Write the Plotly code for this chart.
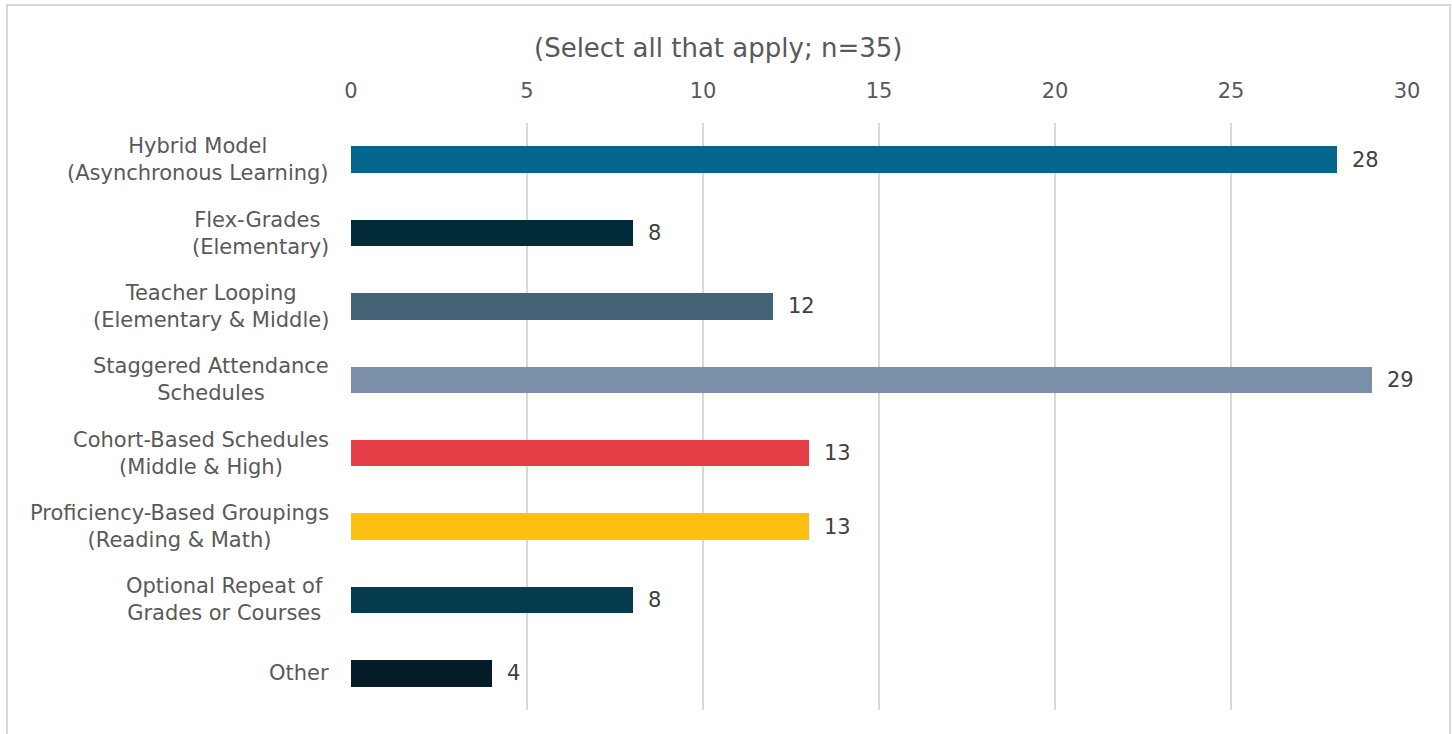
import plotly.graph_objects as go

categories = [
    "Hybrid Model<br>(Asynchronous Learning)",
    "Flex-Grades <br>(Elementary)",
    "Teacher Looping<br>(Elementary & Middle)",
    "Staggered Attendance<br>Schedules",
    "Cohort-Based Schedules<br>(Middle & High)",
    "Proficiency-Based Groupings<br>(Reading & Math)",
    "Optional Repeat of <br>Grades or Courses ",
    "Other",
]
values = [28, 8, 12, 29, 13, 13, 8, 4]
colors = ["#05668D", "#022B3A", "#436275", "#7A8FA9", "#E63E47", "#FDC010", "#053B4F", "#041B28"]
x_ticks = [0, 5, 10, 15, 20, 25, 30]
title_text = "(Select all that apply; n=35)"

FONT = "DejaVu Sans, sans-serif"
W, H = 1452, 734
ml, mr, mt, mb = 351, 45, 123, 24
pw, ph = W - ml - mr, H - mt - mb

ids = list(range(len(categories)))

fig = go.Figure(go.Bar(
    x=values, y=ids, orientation="h",
    marker=dict(color=colors, line=dict(width=0)),
    width=0.36,
    hoverinfo="x+y",
))

annotations = []
for i, c in zip(ids, categories):
    annotations.append(dict(
        x=0, y=i, xref="x", yref="y", text=c, showarrow=False,
        xanchor="right", yanchor="middle", align="center", xshift=-20,
        font=dict(size=21, color="#595959", family=FONT),
    ))
for i, v in zip(ids, values):
    annotations.append(dict(
        x=v, y=i, xref="x", yref="y", text=str(v), showarrow=False,
        xanchor="left", yanchor="middle", xshift=13,
        font=dict(size=21, color="#404040", family=FONT),
    ))
annotations.append(dict(
    x=(718 - ml) / pw, y=(H - mb - 48) / ph, xref="paper", yref="paper",
    text=title_text, showarrow=False, xanchor="center", yanchor="middle",
    font=dict(size=26, color="#595959", family=FONT),
))

fig.update_layout(
    width=W, height=H,
    margin=dict(l=ml, r=mr, t=mt, b=mb, pad=0),
    paper_bgcolor="white", plot_bgcolor="white",
    showlegend=False,
    bargap=0,
    xaxis=dict(side="top", range=[0, 30], tickvals=x_ticks, showgrid=True,
               gridcolor="#D9D9D9", gridwidth=1.5, zeroline=False, showline=False,
               ticks="", ticklabelstandoff=20,
               tickfont=dict(size=21, color="#595959", family=FONT)),
    yaxis=dict(range=[len(categories) - 0.5, -0.5], tickvals=ids, showticklabels=False,
               showgrid=False, zeroline=False, showline=False, ticks=""),
    annotations=annotations,
    shapes=[dict(type="rect", xref="paper", yref="paper",
                 x0=(7 - ml) / pw, x1=(1450 - ml) / pw,
                 y0=-0.2, y1=(H - mb - 5) / ph,
                 line=dict(color="#D9D9D9", width=2), fillcolor="rgba(0,0,0,0)", layer="below")],
)

fig.write_html("out.html")
